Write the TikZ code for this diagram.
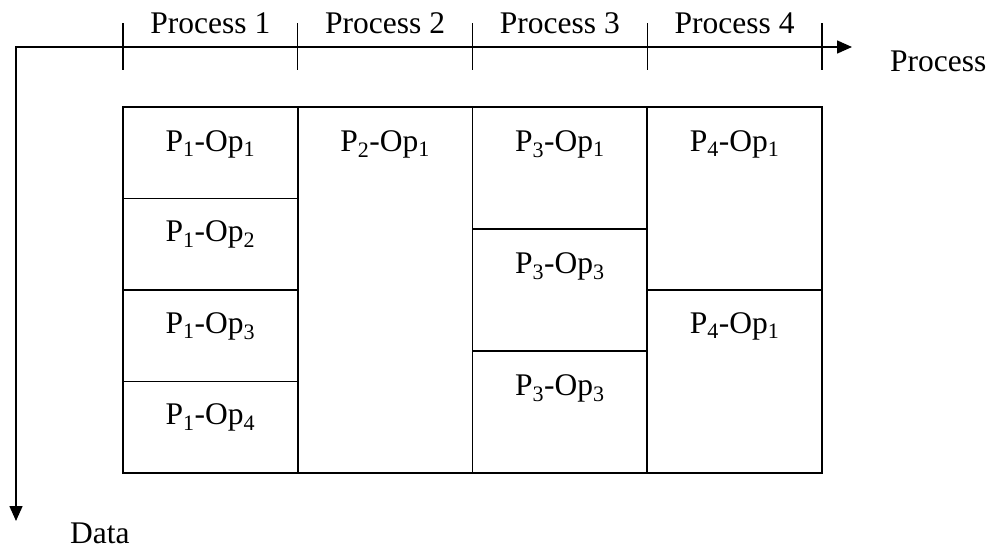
\documentclass[tikz,border=0pt]{standalone}
\usepackage{fontspec}
\setmainfont{Liberation Serif}
\usetikzlibrary{arrows.meta,calc}
\begin{document}
\begin{tikzpicture}[x=1pt,y=-1pt,
  cell/.style={draw, line width=1.8pt, inner sep=0pt, outer sep=0pt, anchor=north west, minimum width=174.75pt},
  lbl/.style={anchor=base, inner sep=0pt, font=\fontsize{31.5}{36}\selectfont},
  axis/.style={line width=1.6pt},
  tickline/.style={line width=1.4pt},
  tip/.style={{Triangle[length=15pt,width=13pt]}}]
\useasboundingbox (0,0) rectangle (988,554);

% axes
\coordinate (o) at (16,47);
\coordinate (xe) at (852,47);
\coordinate (ye) at (16,521);
\draw[axis,{Triangle[length=15pt,width=13pt]}-{Triangle[length=15pt,width=13pt]}] (ye) -- (o) -- (xe);

% ticks
\foreach \x [count=\i] in {123,297.75,472.5,647.25,822} {
  \coordinate (ta\i) at (\x,23);
  \coordinate (tb\i) at (\x,70);
  \draw[tickline] (ta\i) -- (tb\i);
}

% header labels
\node[lbl] (h1) at (210.4,33) {Process 1};
\node[lbl] (h2) at (385.1,33) {Process 2};
\node[lbl] (h3) at (559.9,33) {Process 3};
\node[lbl] (h4) at (734.6,33) {Process 4};
\node[lbl, anchor=base west] (xl) at (890,71) {Process};
\node[lbl, anchor=base west] (yl) at (70,543) {Data};

% column 1
\node[cell, minimum height=91.5pt] (c11) at (123,107) {};
\node[cell, minimum height=91.5pt] (c12) at (123,198.5) {};
\node[cell, minimum height=91.5pt] (c13) at (123,290) {};
\node[cell, minimum height=91.5pt] (c14) at (123,381.5) {};
% column 2
\node[cell, minimum height=366pt] (c21) at (297.75,107) {};
% column 3
\node[cell, minimum height=122pt] (c31) at (472.5,107) {};
\node[cell, minimum height=122pt] (c32) at (472.5,229) {};
\node[cell, minimum height=122pt] (c33) at (472.5,351) {};
% column 4
\node[cell, minimum height=183pt] (c41) at (647.25,107) {};
\node[cell, minimum height=183pt] (c42) at (647.25,290) {};

% cell labels
\node[lbl] (t11) at ($(c11.north)+(0,44)$) {P\textsubscript{1}-Op\textsubscript{1}};
\node[lbl] (t12) at ($(c12.north)+(0,43)$) {P\textsubscript{1}-Op\textsubscript{2}};
\node[lbl] (t13) at ($(c13.north)+(0,43)$) {P\textsubscript{1}-Op\textsubscript{3}};
\node[lbl] (t14) at ($(c14.north)+(0,43)$) {P\textsubscript{1}-Op\textsubscript{4}};
\node[lbl] (t21) at ($(c21.north)+(0,44)$) {P\textsubscript{2}-Op\textsubscript{1}};
\node[lbl] (t31) at ($(c31.north)+(0,44)$) {P\textsubscript{3}-Op\textsubscript{1}};
\node[lbl] (t32) at ($(c32.north)+(0,44)$) {P\textsubscript{3}-Op\textsubscript{3}};
\node[lbl] (t33) at ($(c33.north)+(0,44)$) {P\textsubscript{3}-Op\textsubscript{3}};
\node[lbl] (t41) at ($(c41.north)+(0,44)$) {P\textsubscript{4}-Op\textsubscript{1}};
\node[lbl] (t42) at ($(c42.north)+(0,43)$) {P\textsubscript{4}-Op\textsubscript{1}};
\end{tikzpicture}
\end{document}
